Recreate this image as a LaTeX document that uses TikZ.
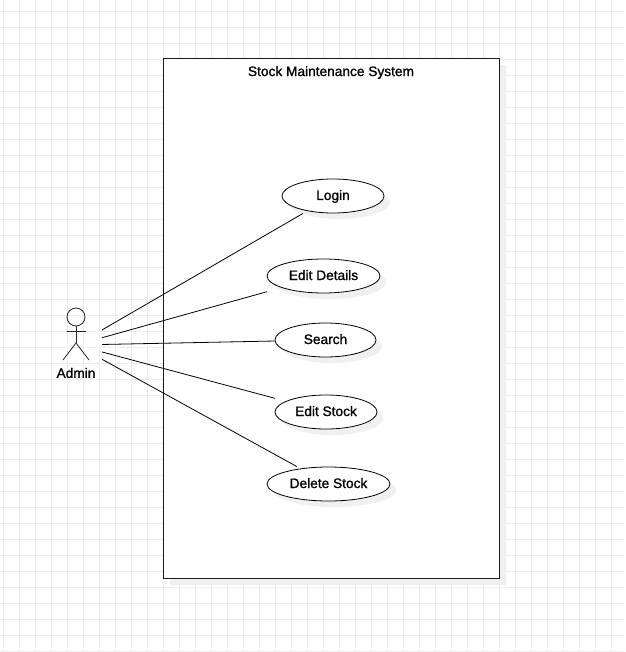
\documentclass[tikz,border=0pt]{standalone}
\usepackage{fontspec}
\setmainfont[FakeBold=1.2]{Liberation Sans}
\usetikzlibrary{shapes,shadows}
\tikzstyle{gridline} = [black!7, line width=1pt]
\tikzstyle{sysbox} = [draw, line width=1pt, black!90, fill=white, drop shadow={shadow xshift=6.5pt, shadow yshift=-6.5pt, fill=black!6, opacity=1}]
\tikzstyle{usecase} = [ellipse, draw, line width=0.8pt, fill=white, minimum height=34pt, inner sep=0pt, outer sep=0pt, drop shadow={shadow xshift=6pt, shadow yshift=-6pt, fill=black!6, opacity=1}]
\tikzstyle{ucbox} = [rectangle, minimum height=35pt, inner sep=0pt, outer sep=0pt, text height=10pt, text depth=2pt]
\tikzstyle{actor} = [line width=0.8pt, black!85]
\begin{document}
\begin{tikzpicture}[x=1pt,y=-1pt,font=\fontsize{13.7}{15}\selectfont]

    \useasboundingbox (0,0) rectangle (625,652);

    %background grid
    \foreach \x in {0,...,38}
      {
        \draw[gridline] (3.5 + 16 * \x,0) -- (3.5 + 16 * \x,652);
      }
    \foreach \y in {0,...,40}
      {
        \draw[gridline] (0,11.5 + 16 * \y) -- (625,11.5 + 16 * \y);
      }

    %system
    \node[sysbox,minimum width=336pt,minimum height=519pt,inner sep=0pt,outer sep=0pt] at (331,318.5) (system) {};
    \node at (331,72.5) (title) {Stock Maintenance System};

    %actor
    \node[circle,draw,actor,minimum size=18pt,inner sep=0pt,outer sep=0pt] at (76,317) (head) {};
    \coordinate (armL) at (66.5,331.5);
    \coordinate (armR) at (85.5,331.5);
    \coordinate (hip) at (76,343);
    \coordinate (legL) at (63,360);
    \coordinate (legR) at (89,360);
    \draw[actor] (armL) -- (armR);
    \draw[actor] (head) -- (hip);
    \draw[actor] (legL) -- (hip) -- (legR);
    \node at (76,373) (label) {Admin};
    \node[minimum width=52pt,minimum height=70pt,inner sep=0pt,outer sep=0pt] at (76,345) (admin) {};

    %use cases
    \foreach \name/\x/\y/\w/\txt in {login/333/196/102/Login,details/323.5/276/113/Edit Details,search/325.5/340/101/Search,stock/326/412/102/Edit Stock,delete/328.5/484/123/Delete Stock}
      {
        \node[usecase,minimum width=\w pt] at (\x,\y) (\name Oval) {};
        \node[ucbox,minimum width=\w pt] at (\x,\y) (\name) {\txt};
        \draw[line width=0.8pt] (admin) -- (\name);
      }

\end{tikzpicture}
\end{document}
